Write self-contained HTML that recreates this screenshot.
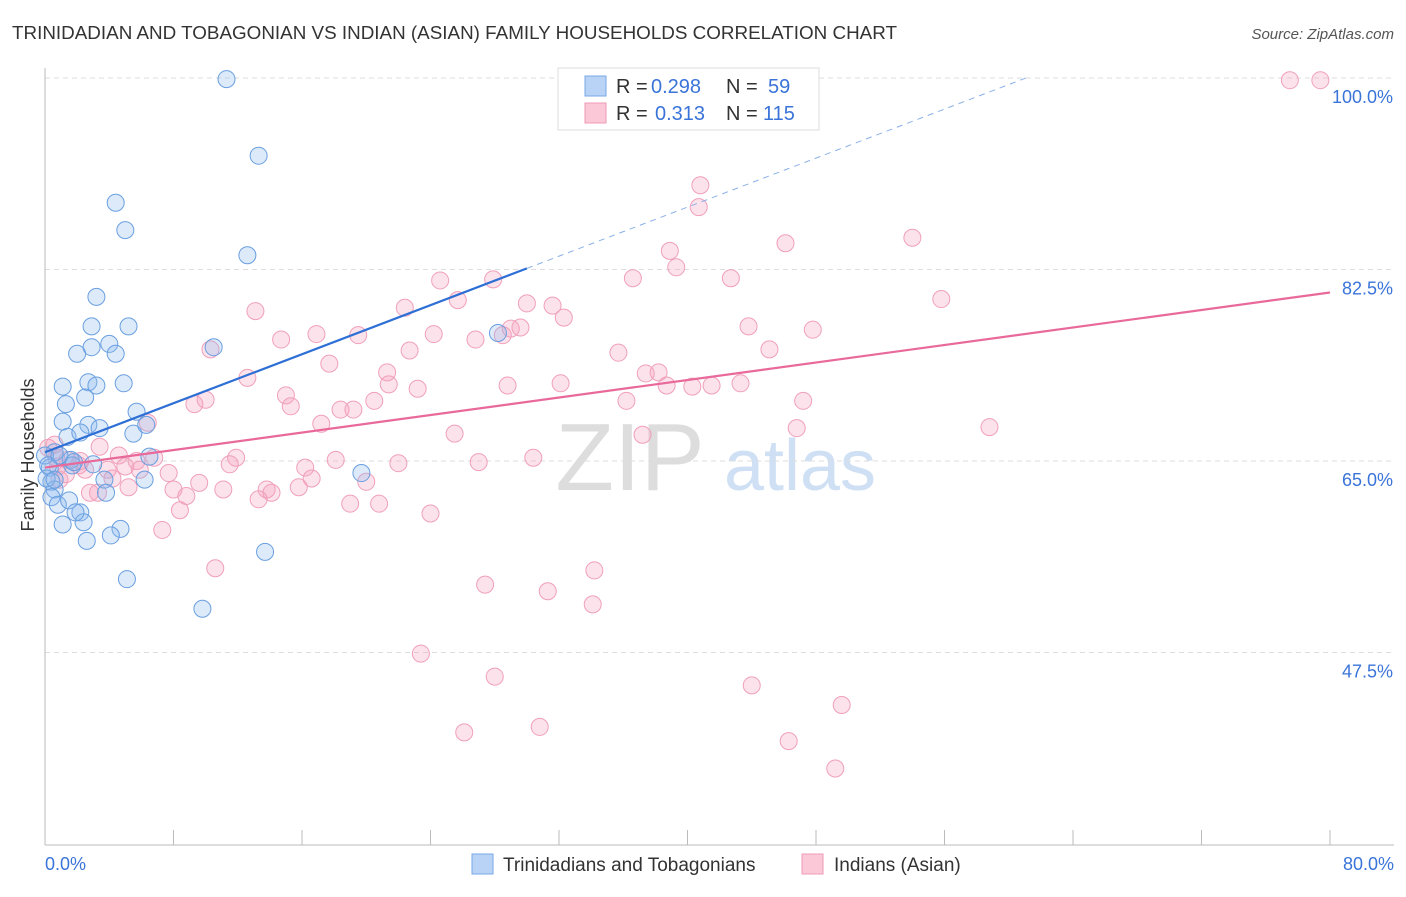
<!DOCTYPE html>
<html><head><meta charset="utf-8"><style>
body{margin:0;background:#fff;font-family:"Liberation Sans",sans-serif}
svg text{font-family:"Liberation Sans",sans-serif}
</style></head><body>
<svg id="c" width="1406" height="892" xmlns="http://www.w3.org/2000/svg">
<text x="12" y="39" font-size="18" fill="#333" textLength="885" lengthAdjust="spacingAndGlyphs">TRINIDADIAN AND TOBAGONIAN VS INDIAN (ASIAN) FAMILY HOUSEHOLDS CORRELATION CHART</text>
<text x="1394" y="39" font-size="15" fill="#555" text-anchor="end" font-style="italic">Source: ZipAtlas.com</text>
<text x="630" y="490" font-size="96" fill="#ddd" font-family="Liberation Serif" text-anchor="middle">ZIP</text>
<text x="800" y="490" font-size="72" fill="#cfe0f5" text-anchor="middle">atlas</text>
<g id="grid"></g><g id="pts"></g><g id="lines"></g>
<text transform="translate(34,455) rotate(-90)" font-size="18" fill="#333" text-anchor="middle">Family Households</text>
<text x="45" y="870" font-size="18" fill="#3a74d9">0.0%</text>
<text x="1394" y="870" font-size="18" fill="#3a74d9" text-anchor="end">80.0%</text>
<g>
<rect x="558" y="68" width="261" height="62" fill="#fff" stroke="#ddd"/>
<rect x="585" y="76" width="21" height="20" fill="#b8d3f5" stroke="#7aa8e8"/>
<rect x="585" y="103" width="21" height="20" fill="#fac8d7" stroke="#f09ab5"/>
<text x="616" y="93" font-size="20" fill="#333">R =</text>
<text x="651" y="93" font-size="20" fill="#3a74d9">0.298</text>
<text x="726" y="93" font-size="20" fill="#333">N =</text>
<text x="768" y="93" font-size="20" fill="#3a74d9">59</text>
<text x="616" y="120" font-size="20" fill="#333">R =</text>
<text x="655" y="120" font-size="20" fill="#3a74d9">0.313</text>
<text x="726" y="120" font-size="20" fill="#333">N =</text>
<text x="763" y="120" font-size="20" fill="#3a74d9">115</text>
</g>
<g>
<rect x="472" y="854" width="21" height="20" fill="#b8d3f5" stroke="#7aa8e8"/>
<text x="503" y="871" font-size="19" fill="#333">Trinidadians and Tobagonians</text>
<rect x="802" y="854" width="21" height="20" fill="#fac8d7" stroke="#f09ab5"/>
<text x="834" y="871" font-size="19" fill="#333">Indians (Asian)</text>
</g>
</svg>
<script>
const yTicks=[100,82.5,65,47.5];
const yTickLabels=["100.0%","82.5%","65.0%","47.5%"];
const blueX=[11.3,13.3,4.4,5.0,12.6,3.2,2.9,5.2,2.0,2.9,4.0,4.4,10.5,28.2,1.1,2.7,3.2,4.9,1.3,2.5,5.7,1.1,2.7,3.4,1.4,2.2,5.5,6.3,0.6,1.6,1.7,3.0,6.5,6.2,0.3,0.4,0.6,3.7,3.8,0.4,0.8,1.5,2.2,2.4,1.9,1.1,4.7,4.1,2.6,13.7,5.1,9.8,19.7,0,0.2,0.1,0.6,0.9,1.8];
const blueY=[99.9,92.9,88.6,86.1,83.8,80.0,77.3,77.3,74.8,75.4,75.7,74.8,75.4,76.7,71.8,72.2,71.9,72.1,70.2,70.8,69.5,68.6,68.3,68.0,67.2,67.6,67.5,68.3,65.8,65.1,64.6,64.7,65.4,63.3,64.4,63.1,62.4,63.3,62.1,61.7,61.0,61.4,60.3,59.4,60.3,59.2,58.8,58.2,57.7,56.7,54.2,51.5,63.9,65.5,64.6,63.4,63.3,65.5,64.9];
const pinkX=[77.5,79.4,40.8,40.7,54.0,38.9,46.1,39.3,24.6,27.9,36.6,42.7,55.8,25.7,30.0,31.6,32.3,22.4,13.1,43.8,47.8,16.9,19.5,24.2,26.8,28.5,29.0,29.6,14.7,10.3,22.7,35.7,45.1,17.7,21.3,38.2,37.4,12.6,21.4,23.2,28.8,32.1,38.7,40.3,41.5,43.3,15.0,20.5,10.0,9.3,15.3,18.4,19.2,36.2,47.2,17.2,6.4,25.5,37.2,46.8,58.8,0.2,0.7,1.4,2.2,3.4,4.6,5.0,5.7,6.8,11.9,16.2,18.1,22.0,27.0,30.4,11.5,7.7,4.2,5.2,1.3,0.8,2.8,8.0,8.8,9.6,11.1,13.8,14.1,13.3,15.8,16.6,20.0,19.0,20.8,24.0,8.4,7.3,10.6,34.2,27.4,31.3,34.1,23.4,28.0,44.0,49.6,26.1,30.8,46.3,49.2,3.3,0.6,2.1,0.9,2.5,3.9,5.9];
const pinkY=[99.8,99.8,90.2,88.2,85.4,84.2,84.9,82.7,81.5,81.6,81.7,81.7,79.8,79.7,79.4,79.2,78.1,79.0,78.7,77.3,77.0,76.6,76.5,76.6,76.1,76.5,77.1,77.2,76.1,75.2,75.1,74.9,75.2,73.9,73.1,73.1,73.0,72.6,72.0,71.6,71.9,72.1,71.9,71.8,71.9,72.1,71.0,70.5,70.6,70.2,70.0,69.7,69.7,70.5,70.5,68.4,68.5,67.5,67.4,68.0,68.1,66.2,65.3,65.1,65.0,66.3,65.5,64.5,65.0,65.3,65.3,64.4,65.1,64.8,64.9,65.3,64.7,63.9,63.4,62.6,63.8,64.5,62.1,62.4,61.8,63.0,62.4,62.4,62.1,61.5,62.6,63.4,63.1,61.1,61.1,60.2,60.5,58.7,55.2,55.0,53.7,53.1,51.9,47.4,45.3,44.5,42.7,40.2,40.7,39.4,36.9,62.1,66.5,64.6,63.3,64.2,64.2,64.2];
const blueTrend=[65.8,82.6];const blueTrendEndX=30;
const pinkTrend=[64.4,80.4];
const X0=45,X1=1330,Y100=78,PXPER=191.5/17.5;
const sx=v=>X0+(v/80)*(X1-X0);
const sy=v=>Y100+(100-v)*PXPER;
const NS="http://www.w3.org/2000/svg";
function mk(t,a,p){const e=document.createElementNS(NS,t);for(const k in a)e.setAttribute(k,a[k]);p.appendChild(e);return e;}
const grid=document.getElementById('grid');
yTicks.forEach((t,i)=>{const l=mk('line',{x1:X0,x2:1394,y1:sy(t),y2:sy(t),stroke:'#ddd','stroke-dasharray':'5,4'},grid);


const tx=mk('text',{x:1393,y:sy(t)+25,'font-size':18,fill:'#3a74d9','text-anchor':'end'},grid);tx.textContent=yTickLabels[i];

});
mk('line',{x1:X0,x2:X0,y1:68,y2:845,stroke:'#bbb'},grid);
mk('line',{x1:X0,x2:1394,y1:845,y2:845,stroke:'#bbb'},grid);
for(let i=0;i<=10;i++){const t=mk('line',{x1:sx(i*8),x2:sx(i*8),y1:830,y2:845,stroke:'#bbb'},grid);

}
const pts=document.getElementById('pts');
pinkX.forEach((x,i)=>{const c=mk('circle',{cx:sx(x),cy:sy(pinkY[i]),r:8.5,fill:'rgba(245,160,190,0.3)',stroke:'#f0a0ba','stroke-width':1},pts);

});
blueX.forEach((x,i)=>{const c=mk('circle',{cx:sx(x),cy:sy(blueY[i]),r:8.5,fill:'rgba(140,185,240,0.3)',stroke:'#6a9fe0','stroke-width':1},pts);

});
const lines=document.getElementById('lines');
const bs=(blueTrend[1]-blueTrend[0])/blueTrendEndX;
const bx100=(100-blueTrend[0])/bs;
const bl=mk('line',{x1:sx(0),y1:sy(blueTrend[0]),x2:sx(blueTrendEndX),y2:sy(blueTrend[1]),stroke:'#2e6fd6','stroke-width':2.2},lines);


const bd=mk('line',{x1:sx(blueTrendEndX),y1:sy(blueTrend[1]),x2:sx(bx100),y2:sy(100),stroke:'#8ab0e8','stroke-width':1,'stroke-dasharray':'6,5'},lines);


const pl=mk('line',{x1:sx(0),y1:sy(pinkTrend[0]),x2:sx(80),y2:sy(pinkTrend[1]),stroke:'#e8699a','stroke-width':2.2},lines);


</script>
</body></html>
